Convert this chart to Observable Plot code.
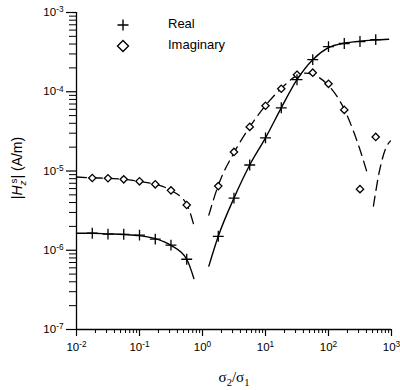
<!DOCTYPE html>
<html><head><meta charset="utf-8">
<script src="https://cdn.jsdelivr.net/npm/d3@7"></script>
<script src="https://cdn.jsdelivr.net/npm/@observablehq/plot@0.6"></script>
<style>
body{margin:0;background:#fff;}
#wrap{position:relative;width:400px;height:390px;font-family:"Liberation Sans",Arial,sans-serif;color:#000;}
.ov{position:absolute;white-space:nowrap;}
sub,sup{font-size:0.7em;}
</style>
</head><body><div id="wrap"></div>
<script>
// ---- data ----
const markX = [0.0178,0.0316,0.0562,0.1,0.178,0.316,0.562,1.78,3.16,5.62,10,17.8,31.6,56.2,100,178,316,562];
const realMarkY = [1.64e-6,1.60e-6,1.59e-6,1.55e-6,1.38e-6,1.16e-6,7.7e-7,1.50e-6,4.55e-6,1.19e-5,2.62e-5,6.27e-5,1.42e-4,2.54e-4,3.71e-4,4.06e-4,4.30e-4,4.55e-4];
const imagMarkY = [8.15e-6,8.1e-6,7.85e-6,7.41e-6,6.79e-6,5.70e-6,3.72e-6,6.45e-6,1.74e-5,3.6e-5,6.65e-5,1.09e-4,1.64e-4,1.74e-4,1.26e-4,5.9e-5,5.9e-6,2.69e-5];

const realLeftX = [0.01,0.0178,0.0316,0.0562,0.1,0.178,0.316,0.562,0.73];
const realLeftY = [1.64e-6,1.64e-6,1.61e-6,1.58e-6,1.53e-6,1.40e-6,1.15e-6,7.7e-7,4.4e-7];
const realRightX = [1.26,1.78,3.16,5.62,10,17.8,31.6,56.2,100,178,316,562,900];
const realRightY = [6.3e-7,1.50e-6,4.55e-6,1.19e-5,2.62e-5,6.27e-5,1.42e-4,2.54e-4,3.6e-4,4.1e-4,4.35e-4,4.5e-4,4.6e-4];

const imagLeftX = [0.01,0.0178,0.0316,0.0562,0.1,0.178,0.316,0.562,0.73];
const imagLeftY = [8.4e-6,8.2e-6,8.1e-6,7.85e-6,7.4e-6,6.8e-6,5.7e-6,3.8e-6,2.07e-6];
const imagRightX = [1.26,1.78,3.16,5.62,10,17.8,31.6,42,56.2,100,178,248,321,415];
const imagRightY = [2.77e-6,6.6e-6,1.7e-5,3.6e-5,6.7e-5,1.1e-4,1.6e-4,1.72e-4,1.65e-4,1.2e-4,6.0e-5,3.2e-5,1.79e-5,9.2e-6];
const imagTailX = [516,644,802,964];
const imagTailY = [3.6e-6,1.0e-5,1.9e-5,2.4e-5];

const xMajor = [1e-2,1e-1,1e0,1e1,1e2,1e3];
const yMajor = [1e-7,1e-6,1e-5,1e-4,1e-3];
const seriesNames = ["Real","Imaginary"];

// ---- helpers ----
const rows = (xs, ys) => xs.map((x, i) => ({x, y: ys[i]}));
const minors = (majors) => majors.slice(0, -1).flatMap(m => [2,3,4,5,6,7,8,9].map(k => m * k));
const expFmt = d => "10^" + Math.round(Math.log10(d));

const dash = "10,6";
const plot = Plot.plot({
  width: 400, height: 390,
  marginLeft: 76, marginRight: 9, marginTop: 12, marginBottom: 61,
  style: {fontFamily: "'Liberation Sans', Arial, sans-serif", fontSize: "11.5px", color: "#000", background: "#fff"},
  x: {type: "log", domain: [1e-2, 1e3]},
  y: {type: "log", domain: [1e-7, 1e-3]},
  marks: [
    Plot.axisX(xMajor, {tickSize: 7, tickPadding: 6, tickFormat: expFmt, label: null, strokeWidth: 1.2}),
    Plot.axisX(minors(xMajor), {tickSize: 4, text: null, label: null}),
    Plot.axisY(yMajor, {tickSize: 10, tickPadding: 3, tickFormat: expFmt, label: null, strokeWidth: 1.2}),
    Plot.axisY(minors(yMajor), {tickSize: 7, text: null, label: null}),
    Plot.ruleX([1e-2], {strokeWidth: 1.3}),
    Plot.ruleY([1e-7], {strokeWidth: 1.3}),
    Plot.line(rows(realLeftX, realLeftY), {x: "x", y: "y", curve: "monotone-x", strokeWidth: 1.4}),
    Plot.line(rows(realRightX, realRightY), {x: "x", y: "y", curve: "monotone-x", strokeWidth: 1.4}),
    Plot.line(rows(imagLeftX, imagLeftY), {x: "x", y: "y", curve: "monotone-x", strokeWidth: 1.3, strokeDasharray: dash}),
    Plot.line(rows(imagRightX, imagRightY), {x: "x", y: "y", curve: "monotone-x", strokeWidth: 1.3, strokeDasharray: dash}),
    Plot.line(rows(imagTailX, imagTailY), {x: "x", y: "y", curve: "monotone-x", strokeWidth: 1.3, strokeDasharray: dash}),
    Plot.dot(rows(markX, imagMarkY), {x: "x", y: "y", symbol: "diamond2", r: 3.3, stroke: "#000", fill: "#fff", strokeWidth: 1.3}),
    Plot.dot(rows(markX, realMarkY), {x: "x", y: "y", symbol: "plus", r: 3.6, stroke: "#000", strokeWidth: 1.3})
  ]
});

// superscript exponents on tick labels
d3.select(plot).selectAll('g[aria-label="x-axis tick label"] text, g[aria-label="y-axis tick label"] text').each(function() {
  const [b, e] = this.textContent.split("^");
  this.textContent = "";
  const s = d3.select(this);
  s.append("tspan").text(b);
  s.append("tspan").attr("dy", "-0.45em").attr("font-size", "0.72em").text(e);
});

const wrap = document.getElementById("wrap");
wrap.appendChild(plot);

// legend and axis titles
const legend = document.createElement("div");
legend.innerHTML = `
<svg class="ov" style="left:115px;top:17px" width="16" height="16"><path d="M8,2.5V13.5M2.5,8H13.5" stroke="#000" stroke-width="1.4" fill="none"/></svg>
<div class="ov" style="left:168px;top:16px;font-size:13px">${seriesNames[0]}</div>
<svg class="ov" style="left:115px;top:38px" width="16" height="16"><path d="M8,2.5L13.5,8L8,13.5L2.5,8Z" stroke="#000" stroke-width="1.4" fill="#fff"/></svg>
<div class="ov" style="left:168px;top:37px;font-size:13px">${seriesNames[1]}</div>
<div class="ov" style="left:18px;top:168px;font-size:14px;transform:translate(-50%,-50%) rotate(-90deg)">|<i>H</i><sub><i>z</i></sub><sup style="margin-left:-0.3em">s</sup>| (A/m)</div>
<div class="ov" style="left:234px;top:378px;font-size:15px;font-family:'Liberation Serif',serif;transform:translate(-50%,-50%)">σ<sub>2</sub>/σ<sub>1</sub></div>
`;
wrap.appendChild(legend);
</script>
</body></html>
